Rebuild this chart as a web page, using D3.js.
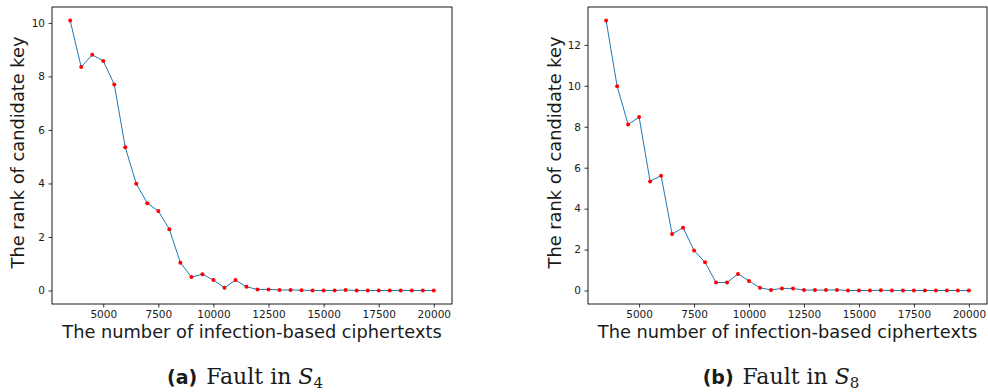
<!DOCTYPE html>
<html>
<head>
<meta charset="utf-8">
<script src="https://cdn.jsdelivr.net/npm/d3@7"></script>
<style>
  body { margin: 0; background: #fff; }
  svg text { fill: #1a1a1a; }
</style>
</head>
<body>
<div id="chart"></div>
<script>
// number of ciphertexts (x values, shared by both panels)
var counts = [3500, 4000, 4500, 5000, 5500, 6000, 6500, 7000, 7500, 8000, 8500, 9000,
  9500, 10000, 10500, 11000, 11500, 12000, 12500, 13000, 13500, 14000, 14500, 15000,
  15500, 16000, 16500, 17000, 17500, 18000, 18500, 19000, 19500, 20000];

// rank of candidate key, fault in S4
var rankS4 = [10.09, 8.35, 8.81, 8.58, 7.70, 5.35, 3.99, 3.26, 2.97, 2.29, 1.04, 0.50,
  0.61, 0.39, 0.10, 0.39, 0.14, 0.04, 0.04, 0.02, 0.02, 0.01, 0, 0,
  0, 0.02, 0, 0, 0, 0, 0, 0, 0, 0];

// rank of candidate key, fault in S8
var rankS8 = [13.19, 9.98, 8.11, 8.47, 5.33, 5.61, 2.76, 3.07, 1.95, 1.38, 0.39, 0.39,
  0.81, 0.47, 0.13, 0.03, 0.10, 0.10, 0.02, 0.02, 0.02, 0.03, 0, 0,
  0, 0.01, 0, 0, 0, 0, 0, 0, 0, 0];

var xTicks = [5000, 7500, 10000, 12500, 15000, 17500, 20000];
var yTicksA = [0, 2, 4, 6, 8, 10];
var yTicksB = [0, 2, 4, 6, 8, 10, 12];

var xLabel = "The number of infection-based ciphertexts";
var yLabel = "The rank of candidate key";

var svg = d3.select("#chart")
  .append("svg")
  .attr("width", 988)
  .attr("height", 392);

// matplotlib style 5% padding around the data
function padded(lo, hi) {
  var p = (hi - lo) * 0.05;
  return [lo - p, hi + p];
}

function drawPanel(opts) {
  var left = opts.left, top = 7, w = opts.width, h = 297;
  var g = svg.append("g").attr("transform", `translate(${left}, ${top})`);

  var x = d3.scaleLinear()
    .domain(padded(d3.min(counts), d3.max(counts)))
    .range([0, w]);
  var y = d3.scaleLinear()
    .domain(padded(0, d3.max(opts.values)))
    .range([h, 0]);

  var xAxis = g.append("g")
    .attr("transform", `translate(0, ${h})`)
    .call(d3.axisBottom(x).tickValues(xTicks).tickSize(3.5).tickPadding(3.5).tickFormat(d3.format("d")));
  var yAxis = g.append("g")
    .call(d3.axisLeft(y).tickValues(opts.yTicks).tickSize(3.5).tickPadding(3.5).tickFormat(d3.format("d")));

  [xAxis, yAxis].forEach(function(a) {
    a.select(".domain").remove();
    a.selectAll("line").attr("stroke", "#000").attr("stroke-width", 0.8);
    a.selectAll("text")
      .attr("font-family", "DejaVu Sans")
      .attr("font-size", 10.5)
      .attr("fill", "#1a1a1a");
  });

  var line = d3.line()
    .x(function(d, i) { return x(counts[i]); })
    .y(function(d) { return y(d); });

  g.append("path")
    .datum(opts.values)
    .attr("d", line)
    .attr("fill", "none")
    .attr("stroke", "#1f77b4")
    .attr("stroke-width", 1);

  g.selectAll("circle")
    .data(opts.values)
    .enter()
    .append("circle")
    .attr("cx", function(d, i) { return x(counts[i]); })
    .attr("cy", function(d) { return y(d); })
    .attr("r", 2)
    .attr("fill", "red");

  // frame
  g.append("rect")
    .attr("width", w)
    .attr("height", h)
    .attr("fill", "none")
    .attr("stroke", "#000")
    .attr("stroke-width", 0.9);

  g.append("text")
    .attr("x", w / 2)
    .attr("y", h + 34)
    .attr("text-anchor", "middle")
    .attr("font-family", "DejaVu Sans")
    .attr("font-size", 17.8)
    .text(xLabel);

  g.append("text")
    .attr("transform", "rotate(-90)")
    .attr("x", -h / 2 + 3)
    .attr("y", opts.yLabelX - left)
    .attr("text-anchor", "middle")
    .attr("font-family", "DejaVu Sans")
    .attr("font-size", 17.8)
    .text(yLabel);

  // sub-figure caption
  var cap = svg.append("text")
    .attr("x", opts.capX)
    .attr("y", 384)
    .attr("text-anchor", "middle")
    .attr("font-family", "DejaVu Serif")
    .attr("font-size", 22);
  cap.append("tspan").attr("font-family", "DejaVu Sans").attr("font-weight", "bold").attr("font-size", 19).text(opts.tag);
  cap.append("tspan").attr("dx", 2).text(" Fault in ");
  cap.append("tspan").attr("font-style", "italic").text("S");
  cap.append("tspan").attr("font-size", 15).attr("dy", 4).text(opts.sub);
}

drawPanel({ left: 52, width: 400, values: rankS4, yTicks: yTicksA, yLabelX: 24, capX: 245, tag: "(a)", sub: "4" });
drawPanel({ left: 588, width: 399, values: rankS8, yTicks: yTicksB, yLabelX: 561, capX: 781, tag: "(b)", sub: "8" });
</script>
</body>
</html>
